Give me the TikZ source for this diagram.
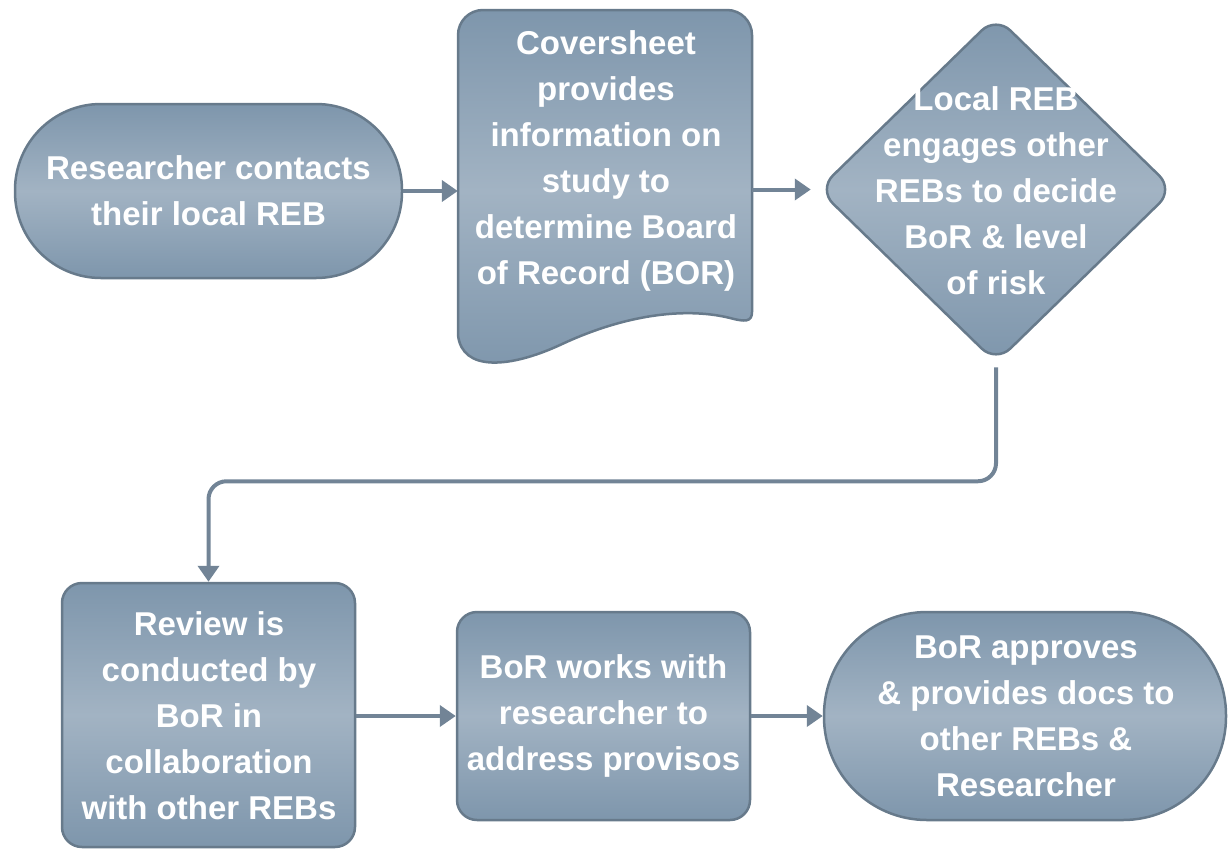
\documentclass[tikz,border=0pt]{standalone}
\usepackage{fontspec}
\setmainfont{Liberation Sans}
\usetikzlibrary{shapes.geometric,arrows.meta,calc}
\definecolor{topc}{HTML}{7E96AC}
\definecolor{midc}{HTML}{A2B3C3}
\definecolor{bordc}{HTML}{677A8B}
\definecolor{arrc}{HTML}{728496}
\tikzset{
  box/.style={draw=bordc, line width=2.5pt, top color=topc, bottom color=topc, middle color=midc, inner sep=0pt},
  lbl/.style={text=white, font=\bfseries\fontsize{33}{46}\selectfont, align=center, inner sep=0pt},
  arr/.style={draw=arrc, line width=4pt, -{Triangle[length=16pt,width=21pt]}},
}
\begin{document}
\begin{tikzpicture}[x=1pt,y=-1pt]
\useasboundingbox (0,0) rectangle (1228,849);
% shapes
\node[box, rounded corners=86pt, minimum width=387pt, minimum height=174pt] (t1) at (208.5,191) {};
\node[inner sep=0pt, minimum width=294pt, minimum height=356pt] (doc) at (605,188) {};
\draw[draw=bordc, line width=2.5pt, top color=topc, bottom color=topc, middle color=midc]
  (458,335) [rounded corners=25pt] -- (458,10) -- (752,10) [sharp corners] -- (752,312)
  .. controls (752,322) and (745,322) .. (730,318)
  .. controls (690,308) and (630,312) .. (560,345)
  .. controls (510,368) and (462,372) .. (458,335) -- cycle;
\node[box, diamond, rounded corners=20pt, minimum width=356pt, minimum height=347pt] (dia) at (996,189.5) {};
\node[box, rounded corners=20pt, minimum width=293pt, minimum height=264pt] (rev) at (208.5,715) {};
\node[box, rounded corners=20pt, minimum width=293pt, minimum height=208pt] (wrk) at (603.5,716) {};
\node[box, rounded corners=103pt, minimum width=402pt, minimum height=208pt] (t2) at (1025,716) {};
% labels
\node[lbl] (t1txt) at (t1.center) {Researcher contacts\\their local REB};
\node[lbl] (doctxt) at (606,161) {Coversheet\\provides\\information on\\study to\\determine Board\\of Record (BOR)};
\node[lbl] (diatxt) at (996,191) {Local REB\\engages other\\REBs to decide\\BoR \& level\\of risk};
\node[lbl] (revtxt) at (209,716) {Review is\\conducted by\\BoR in\\collaboration\\with other REBs};
\node[lbl] (wrktxt) at (603.5,716) {BoR works with\\researcher to\\address provisos};
\node[lbl] (t2txt) at (1026,716) {BoR approves\\\& provides docs to\\other REBs \&\\Researcher};
% connectors
\draw[arr] (t1.east) -- (t1.east -| doc.west);
\draw[arr, shorten >=6pt] (doc.east |- dia.west) -- (dia.west);
\draw[arr, rounded corners=18pt, shorten <=3pt] (dia.south) -- ++(0,117) -| (rev.north);
\draw[arr] (rev.east |- wrk.west) -- (wrk.west);
\draw[arr] (wrk.east) -- (t2.west);
\end{tikzpicture}
\end{document}
